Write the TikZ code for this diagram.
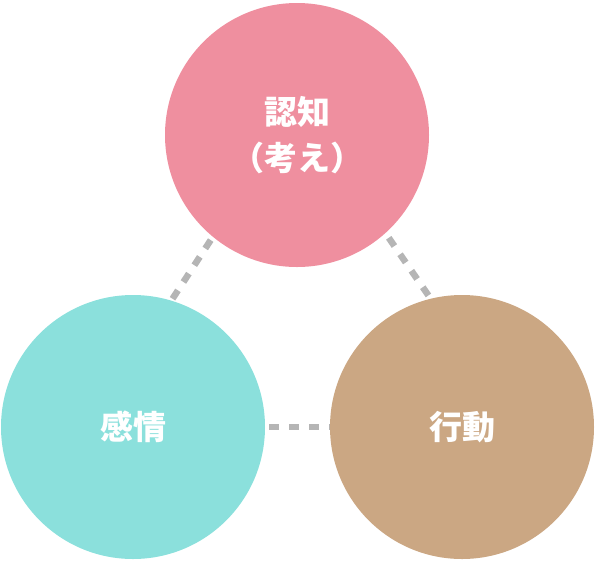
\documentclass[tikz,border=0pt]{standalone}
\usepackage{fontspec}
\newfontfamily\cjk{Noto Sans CJK JP}
\definecolor{pinkc}{HTML}{EF8F9F}
\definecolor{cyanc}{HTML}{8BE0DC}
\definecolor{tanc}{HTML}{CBA783}
\definecolor{dashc}{HTML}{B5B5B5}
\tikzset{
  bubble/.style={circle, minimum size=264pt, inner sep=0pt, text=white,
    font=\cjk\bfseries\fontsize{33}{46}\selectfont, align=center},
  link/.style={draw=dashc, line width=6.5pt, dash pattern=on 10pt off 10pt}
}
\begin{document}
\begin{tikzpicture}[x=1pt,y=-1pt]
\useasboundingbox (0,0) rectangle (595,566);
\coordinate (ta) at (298,106);
\coordinate (tl) at (89,427);
\coordinate (tr) at (519,427);
\draw[link] (ta) -- (tl);
\draw[link] (ta) -- (tr);
\draw[link] (tl) -- (tr);
\node[bubble, fill=pinkc] (cog) at (297,135) {認知\\（考え）};
\node[bubble, fill=cyanc] (emo) at (133,427) {感情};
\node[bubble, fill=tanc] (act) at (462,427) {行動};
\end{tikzpicture}
\end{document}
